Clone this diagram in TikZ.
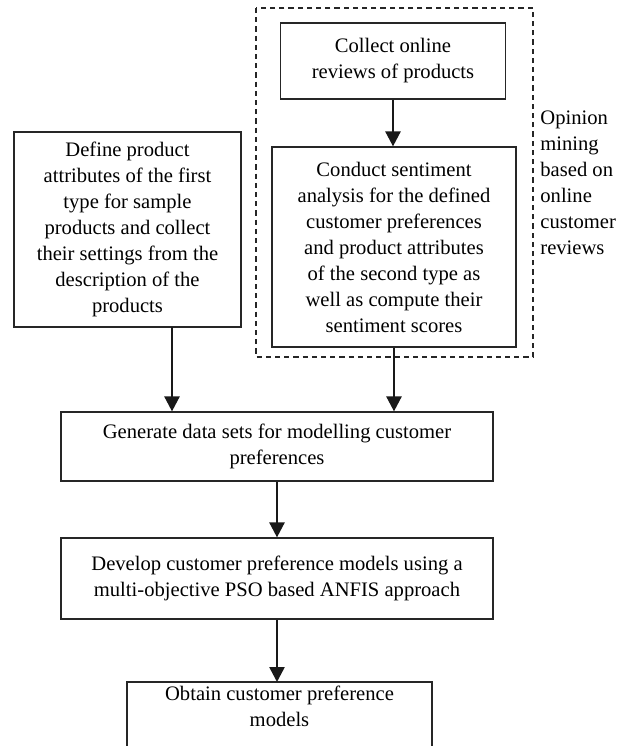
\documentclass[tikz,border=0pt]{standalone}
\usepackage{fontspec}
\setmainfont{Liberation Serif}
\usetikzlibrary{arrows.meta,calc}
\begin{document}
\begin{tikzpicture}[x=0.5pt,y=-0.5pt,
  box/.style={draw=black!85, line width=0.6pt, align=center, inner sep=0pt,
    font=\fontsize{10.3}{13}\selectfont},
  txt/.style={align=center, inner sep=0pt, font=\fontsize{10.3}{13}\selectfont},
  arr/.style={line width=1.3pt, black!90, -{Triangle[length=7.5pt,width=7.5pt]}},
  dashbox/.style={draw=black!85, line width=0.6pt, dash pattern=on 2.6pt off 2pt}]
\useasboundingbox (0,0) rectangle (633,746);
\clip (0,0) rectangle (633,746);
\draw[dashbox] (256,8) rectangle (533,357);
\node[box, minimum width=112.5pt, minimum height=38pt] (collect) at (393,61)
  {Collect online\\reviews of products};
\node[box, minimum width=122pt, minimum height=100pt] (conduct) at (394,247)
  {Conduct sentiment\\analysis for the defined\\customer preferences\\and product attributes\\of the second type as\\well as compute their\\sentiment scores};
\node[box, minimum width=113.5pt, minimum height=97.5pt] (define) at (127.5,229.5)
  {Define product\\attributes of the first\\type for sample\\products and collect\\their settings from the\\description of the\\products};
\node[txt, anchor=west, align=left] (opinion) at (540,183)
  {Opinion\\mining\\based on\\online\\customer\\reviews};
\node[box, minimum width=216pt, minimum height=34.5pt] (generate) at (277,446.5)
  {Generate data sets for modelling customer\\preferences};
\node[box, minimum width=216pt, minimum height=40.5pt] (develop) at (277,578.5)
  {Develop customer preference models using a\\multi-objective PSO based ANFIS approach};
\node[txt] (obtain) at (279.5,706.5) {Obtain customer preference\\models};
\coordinate (obtaintop) at (279.5,682);
\coordinate (leftstart) at (172,327);
\draw[draw=black!85, line width=0.6pt] (127,800) -- (127,682) -- (432,682) -- (432,800);
\draw[arr] (collect.south) -- (collect.south |- conduct.north);
\draw[arr] (conduct.south) -- (conduct.south |- generate.north);
\draw[arr] (leftstart) -- (leftstart |- generate.north);
\draw[arr] (generate.south) -- (develop.north);
\draw[arr] (develop.south) -- (develop.south |- obtaintop);
\end{tikzpicture}
\end{document}
